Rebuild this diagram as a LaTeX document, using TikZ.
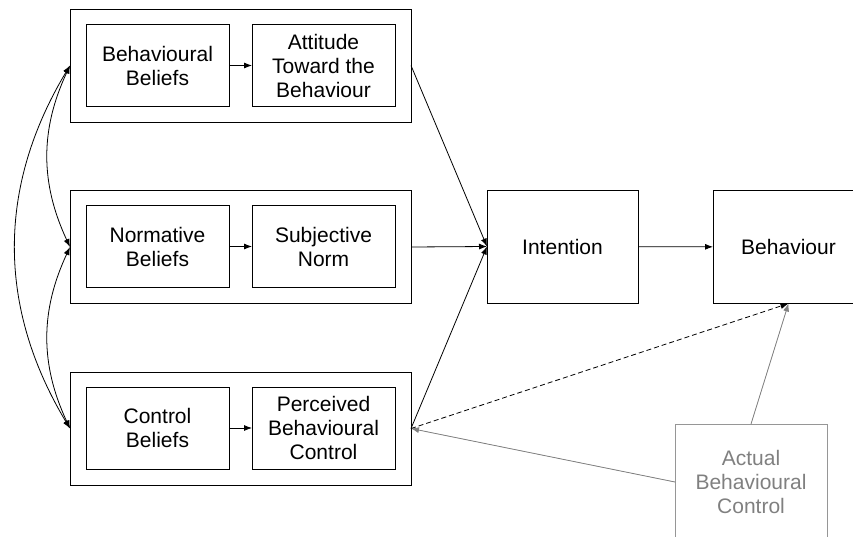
\documentclass[tikz,border=0pt]{standalone}
\usepackage{fontspec}
\setmainfont{Liberation Sans}
\usetikzlibrary{arrows.meta,positioning}

\definecolor{abcgrey}{RGB}{150,150,150}
\definecolor{abctext}{RGB}{128,128,128}

\begin{document}
\begin{tikzpicture}[x=1pt,y=-1pt]
\tikzstyle{box}=[draw,line width=0.8pt,align=center,inner sep=0pt,outer sep=0pt,font=\fontsize{21}{24}\selectfont]
\tikzstyle{group}=[draw,line width=0.8pt,minimum width=341pt,minimum height=113pt,inner sep=0pt,outer sep=0pt]
\tikzstyle{small}=[box,minimum width=143pt,minimum height=82pt]
\tikzstyle{big}=[box,minimum width=151pt,minimum height=113pt]
\tikzstyle{link}=[line width=0.8pt,-{Latex[length=8pt,width=6pt]}]
\tikzstyle{both}=[line width=0.8pt,{Latex[length=8pt,width=6pt]}-{Latex[length=8pt,width=6pt]}]
\tikzstyle{grey link}=[link,draw=abctext,fill=abctext]

\useasboundingbox (0,0) rectangle (853,536);

% belief groups
\node [group] (G1) at (240.5,65.5) {};
\node [group] (G2) at (240.5,247) {};
\node [group] (G3) at (240.5,428.5) {};

\node [small] (BB) at (157.5,65.5) {Behavioural\\Beliefs};
\node [small] (ATB) [right=23pt of BB] {Attitude\\Toward the\\Behaviour};
\node [small] (NB) at (157.5,246.5) {Normative\\Beliefs};
\node [small] (SN) [right=23pt of NB] {Subjective\\Norm};
\node [small] (CB) at (157.5,428) {Control\\Beliefs};
\node [small] (PBC) [right=23pt of CB] {Perceived\\Behavioural\\Control};

\draw [link] (BB) -- (ATB);
\draw [link] (NB) -- (SN);
\draw [link] (CB) -- (PBC);

% intention and behaviour
\node [big] (I) at (562.5,246.5) {Intention};
\node [big] (B) at (788.5,247) {Behaviour};
\node [big,draw=abcgrey,text=abctext,minimum width=152pt,minimum height=116pt] (ABC) at (751,482) {Actual\\Behavioural\\Control};

\draw [both] (G1.west) to [bend right=25] (G2.west);
\draw [both] (G2.west) to [bend right=25] (G3.west);
\draw [both] (G1.west) to [bend right=31] (G3.west);

\draw [link] (G1.east) -- (I.west);
\draw [link] (G2.east) -- (I.west);
\draw [link] (G3.east) -- (I.west);
\draw [link] (I) -- (B);

\draw [grey link] (ABC.west) -- (G3.east);
\draw [grey link] (ABC.north) -- (B.south);
\draw [link,dash pattern=on 5pt off 3pt] (G3.east) -- (B.south);
\end{tikzpicture}
\end{document}
